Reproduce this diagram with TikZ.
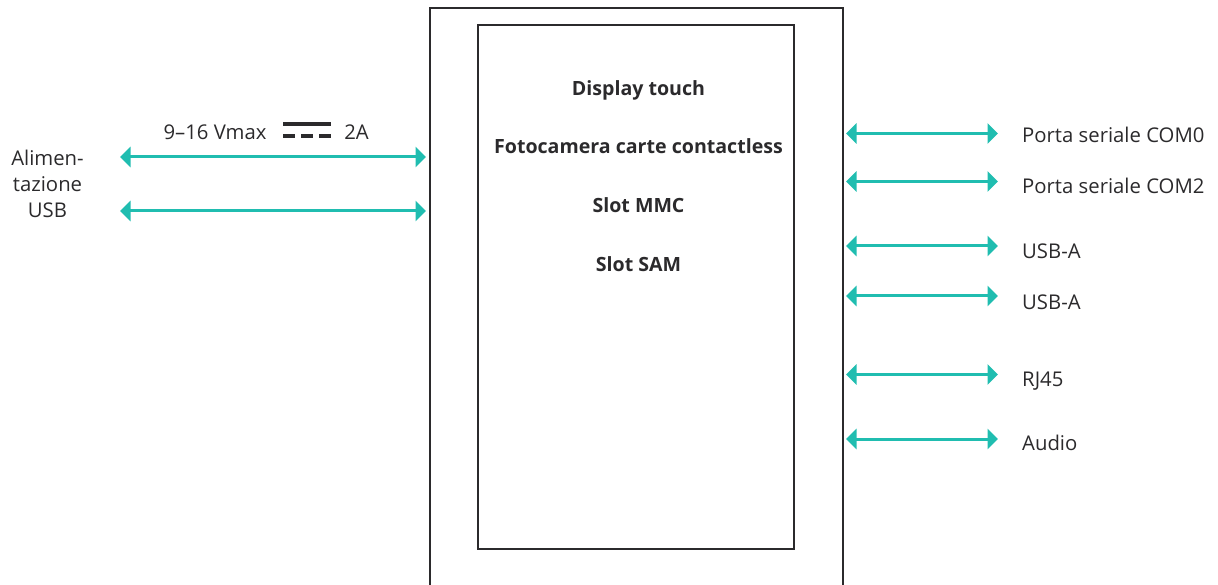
\documentclass[tikz,border=0pt]{standalone}
\usepackage{fontspec}
\setmainfont{Open Sans}
\usetikzlibrary{arrows.meta}
\definecolor{tealc}{HTML}{20BDB0}
\definecolor{ink}{HTML}{2B2A2C}
\begin{document}
\begin{tikzpicture}[x=1pt,y=-1pt,
 box/.style={draw=ink,line width=1.6pt},
 conn/.style={draw=tealc,line width=3pt,{Triangle[length=10.5pt,width=20pt]}-{Triangle[length=10.5pt,width=20pt]}},
 lab/.style={inner sep=0pt,anchor=base,font=\fontsize{20.3}{26}\selectfont,text=ink},
 blab/.style={lab,font=\fontsize{19.6}{24}\selectfont\bfseries},
 rlab/.style={lab,anchor=base west},
 powline/.style={draw=ink,line width=3.6pt}]
\useasboundingbox (0,0) rectangle (1218,585);
\path[box] (430,590) -- (430,8) -- (843,8) -- (843,590);
\node[box,anchor=center,minimum width=316pt,minimum height=524pt,inner sep=0pt] (in) at (636,287) {};
\node[blab] (t1) at (638.5,96) {Display touch};
\node[blab] (t2) at (638.5,154) {Fotocamera carte contactless};
\node[blab] (t3) at (638.5,213) {Slot MMC};
\node[blab] (t4) at (638.5,272) {Slot SAM};
\node[lab] (al1) at (47.5,166) {Alimen-};
\node[lab] (al2) at (47.5,192) {tazione};
\node[lab] (al3) at (47.5,218) {USB};
\node[lab] (volt) at (215,140) {9–16 Vmax};
\node[lab] (amp) at (356.5,140) {2A};
\coordinate (ps) at (283,124);
\coordinate (pe) at (331,124);
\coordinate (ds) at (283,136.3);
\coordinate (de) at (331,136.3);
\draw[powline] (ps) -- (pe);
\draw[powline,dash pattern=on 12pt off 6pt] (ds) -- (de);
\coordinate (l1a) at (120,157); \coordinate (l1b) at (426,157);
\coordinate (l2a) at (120,211); \coordinate (l2b) at (426,211);
\draw[conn] (l1a) -- (l1b);
\draw[conn] (l2a) -- (l2b);
\foreach \n/\y/\by/\t in {r1/133.5/142.7/Porta seriale COM0,r2/181.5/193.5/Porta seriale COM2,r3/246/258.5/USB-A,r4/296/309/USB-A,r5/374.5/386/RJ45,r6/439/450/Audio}{
  \coordinate (\n a) at (846,\y);
  \coordinate (\n b) at (998,\y);
  \node[rlab] (\n t) at (1022,\by) {\t};
  \draw[conn] (\n a) -- (\n b);
}
\end{tikzpicture}
\end{document}
